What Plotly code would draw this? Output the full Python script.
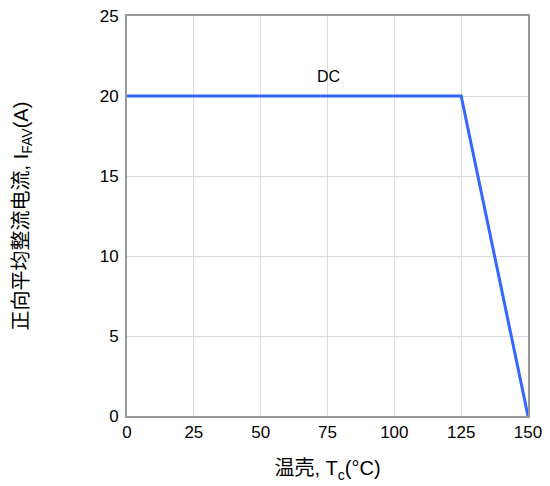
import plotly.graph_objects as go

temp_c = [0, 125, 150]
current_a = [20, 20, 0]
x_ticks = [0, 25, 50, 75, 100, 125, 150]
y_ticks = [0, 5, 10, 15, 20, 25]
label_text = "DC"
label_x = 75.4
label_y = 21.25

fig = go.Figure()
fig.add_trace(go.Scatter(x=temp_c, y=current_a, mode="lines",
                         line=dict(color="#3366ff", width=3), showlegend=False))
fig.add_annotation(x=label_x, y=label_y, text=label_text, showarrow=False,
                   font=dict(family="Arial, Liberation Sans", size=16, color="#000"))

axis_common = dict(showgrid=True, gridcolor="#d9d9d9", gridwidth=1,
                   showline=True, linecolor="#999999", linewidth=2, mirror=True,
                   zeroline=False, ticks="", automargin=False,
                   ticklabeloverflow="allow",
                   tickfont=dict(family="Arial, Liberation Sans", size=17, color="#000"))

fig.update_layout(
    width=542, height=478,
    margin=dict(l=119, r=22, t=8, b=70),
    paper_bgcolor="white", plot_bgcolor="white",
    xaxis=dict(range=[0, 150], tickvals=x_ticks, **axis_common,
               title=dict(text="温壳, T<sub>c</sub>(°C)", standoff=20,
                          font=dict(family="Liberation Sans, Noto Sans CJK SC", size=20, color="#000"))),
    yaxis=dict(range=[0, 25], tickvals=y_ticks, ticklabelstandoff=3, **axis_common,
               title=dict(text="正向平均整流电流, I<sub>FAV</sub>(A)", standoff=66,
                          font=dict(family="Liberation Sans, Noto Sans CJK SC", size=20, color="#000"))),
)
fig.write_html("out.html")
